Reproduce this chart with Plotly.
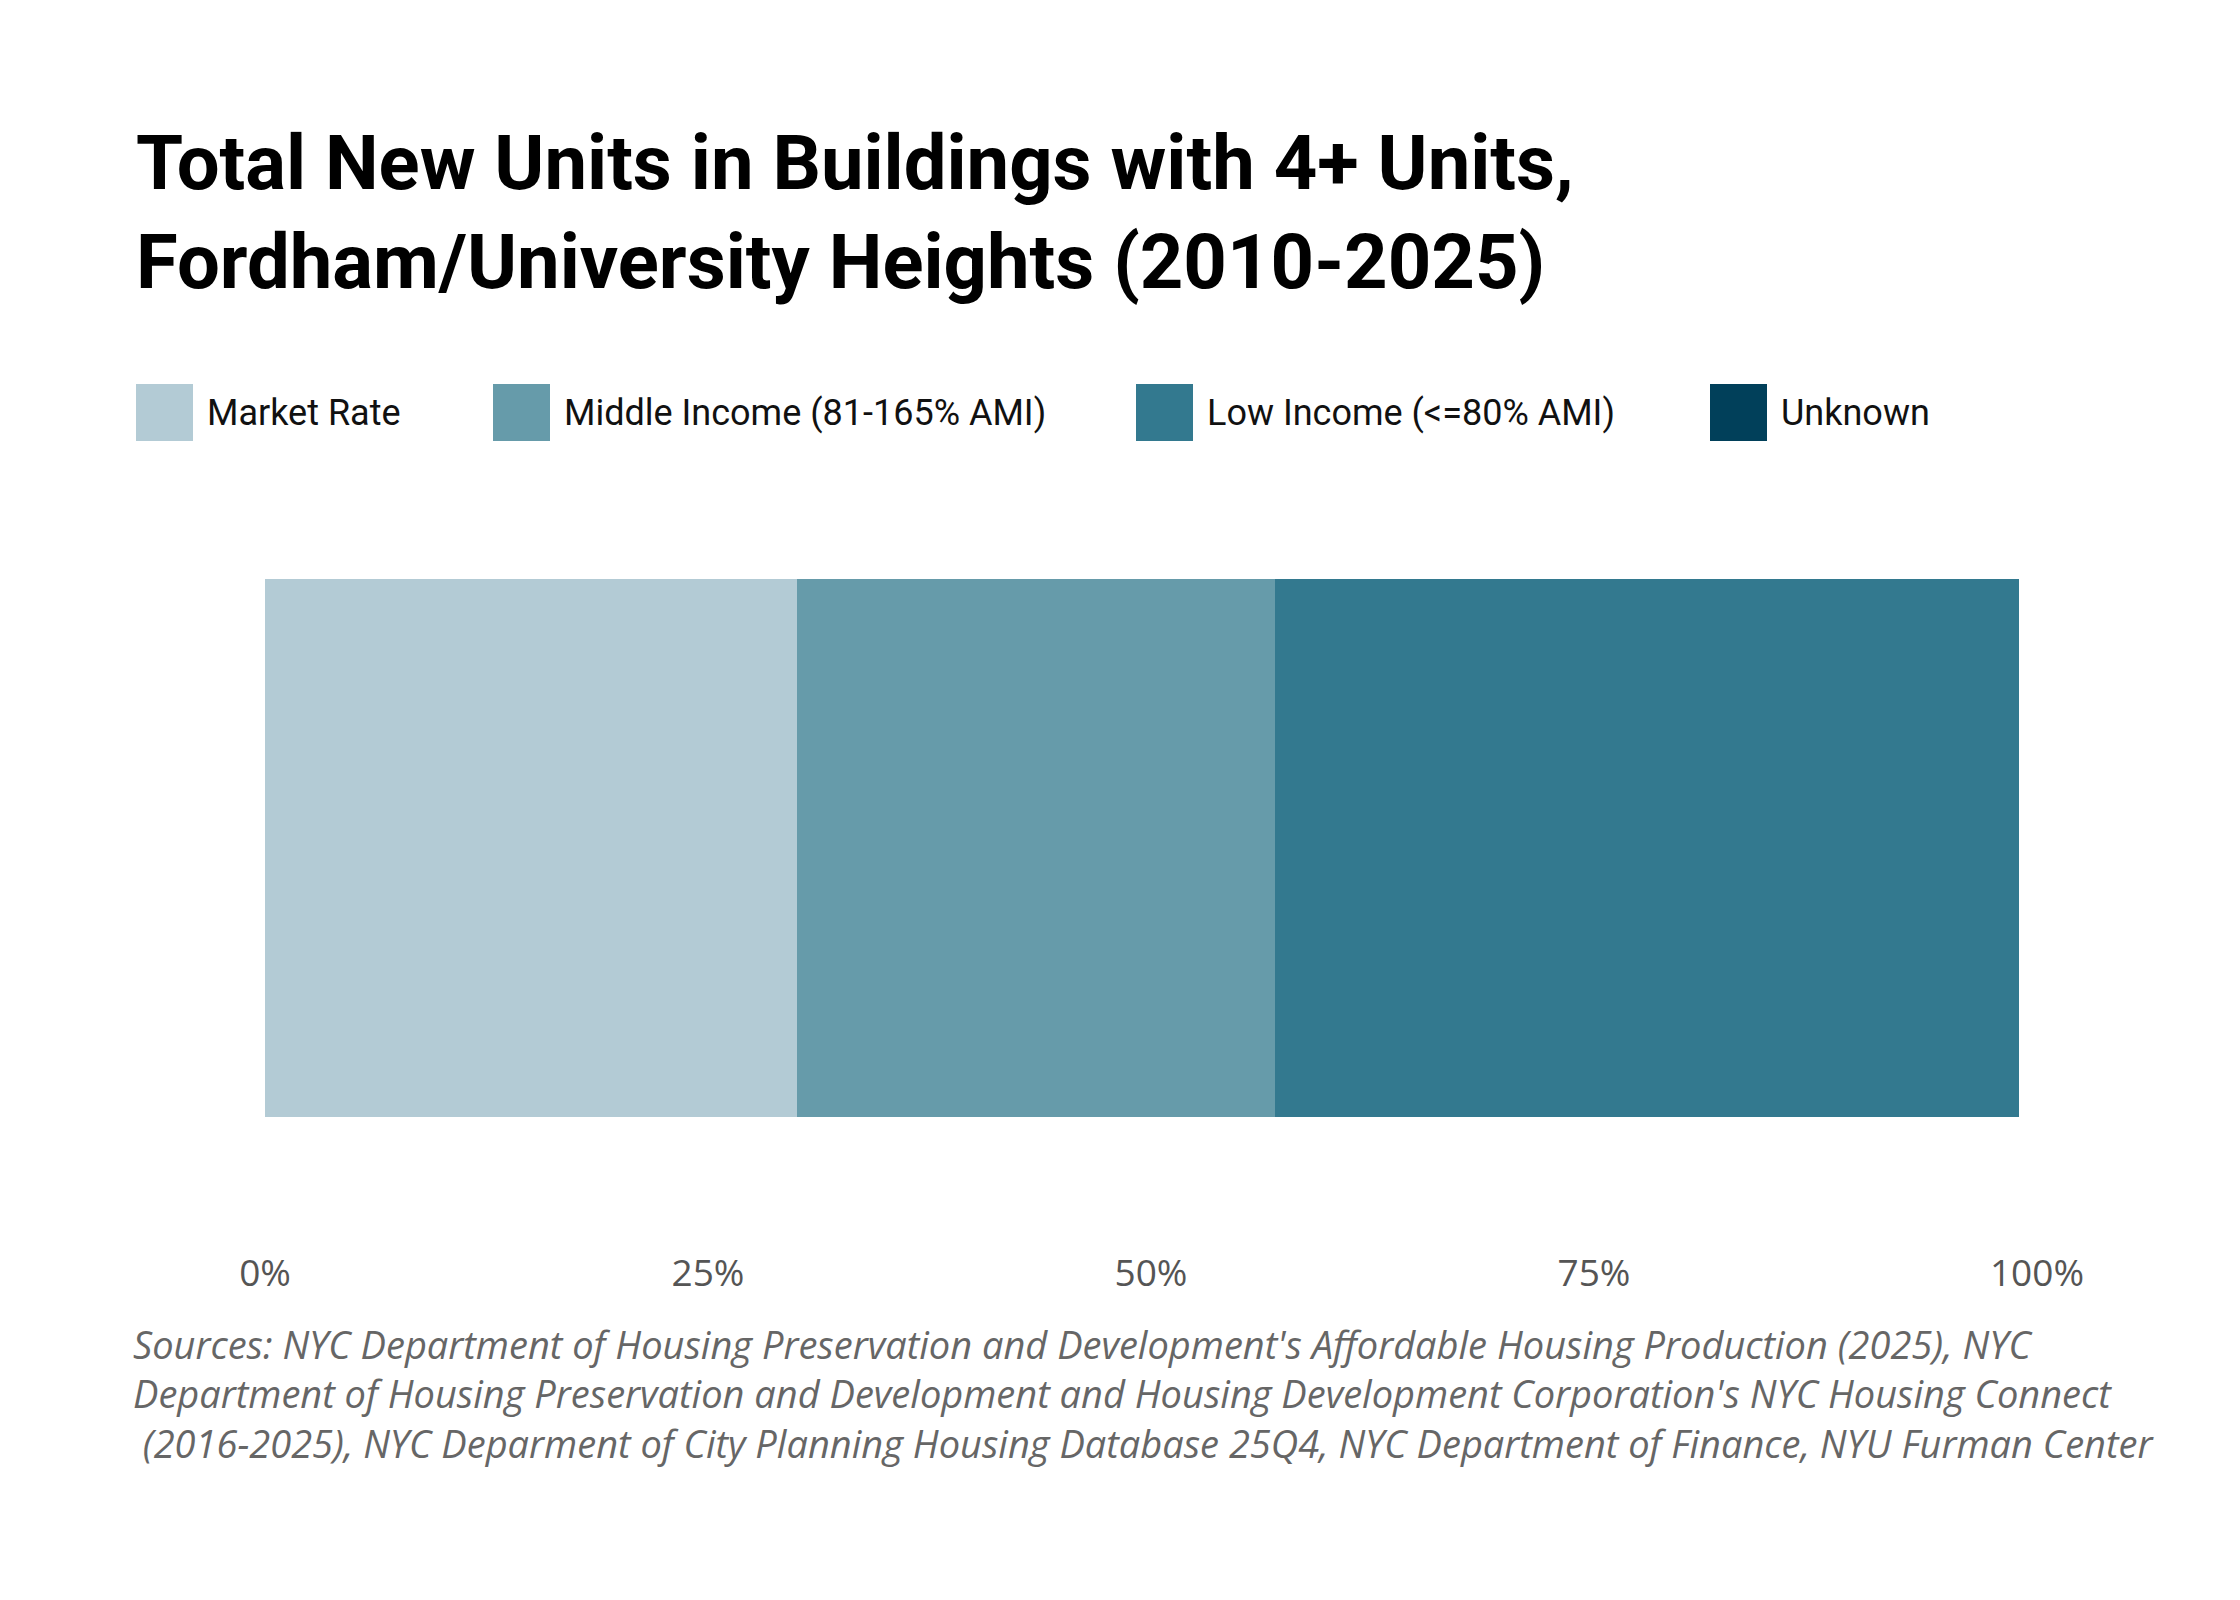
import plotly.graph_objects as go

# share of new units by affordability (percent)
categories = ['Market Rate', 'Middle Income (81-165% AMI)', 'Low Income (<=80% AMI)', 'Unknown']
shares = [30, 27, 42, 0]
colors = ['#b3cbd5', '#669baa', '#33798f', '#01405a']
tick_vals = [0, 25, 50, 75, 100]
tick_text = ['0%', '25%', '50%', '75%', '100%']

W, H = 2240, 1600
OFF = 8  # page body margin shifts the figure
ml, mr, mt, mb = 265 - OFF, 203 + OFF, 456 - OFF, 360 + OFF


def px_x(x):
    return (x - OFF - ml) / (W - ml - mr)


def px_y(y):
    return (H - mb - (y - OFF)) / (H - mt - mb)


fig = go.Figure()
for name, val, col in zip(categories, shares, colors):
    fig.add_trace(go.Bar(
        x=[val], y=['Fordham/University Heights'], name=name, orientation='h',
        marker=dict(color=col, line=dict(width=0)), showlegend=False,
        hovertemplate=name + ': %{x}%<extra></extra>'))

# legend drawn by hand so the swatches can be large squares
legend_x = [136, 493, 1136, 1710]
sq = 57
sq_top = 384
for name, col, lx in zip(categories, colors, legend_x):
    fig.add_shape(type='rect', xref='paper', yref='paper',
                  x0=px_x(lx), x1=px_x(lx + sq), y0=px_y(sq_top + sq), y1=px_y(sq_top),
                  fillcolor=col, line=dict(width=0))
    fig.add_annotation(xref='paper', yref='paper', x=px_x(lx + sq + 12), y=px_y(sq_top + sq / 2),
                       text=name, showarrow=False, xanchor='left', yanchor='middle',
                       font=dict(family='Roboto', size=36, color='#111111'))

sources = ("Sources: NYC Department of Housing Preservation and Development's Affordable Housing Production (2025), NYC<br>"
           "Department of Housing Preservation and Development and Housing Development Corporation's NYC Housing Connect<br>"
           " (2016-2025), NYC Deparment of City Planning Housing Database 25Q4, NYC Department of Finance, NYU Furman Center")
fig.add_annotation(xref='paper', yref='paper', x=px_x(131), y=px_y(1316), text=sources,
                   showarrow=False, xanchor='left', yanchor='top', align='left',
                   font=dict(family='Open Sans', size=38, color='#666666', style='italic'))

fig.update_layout(
    width=W, height=H,
    barmode='stack', bargap=0.314,
    paper_bgcolor='white', plot_bgcolor='white',
    margin=dict(l=ml, r=mr, t=mt, b=mb),
    title=dict(text='<b>Total New Units in Buildings with 4+ Units,<br>Fordham/University Heights (2010-2025)</b>',
               x=(136 - OFF) / W, xanchor='left', xref='container',
               y=1 - 181 / H, yanchor='top', yref='container',
               font=dict(family='Roboto', size=76, color='#000000')),
    xaxis=dict(range=[0, 100], tickvals=tick_vals, ticktext=tick_text, showgrid=False,
               zeroline=False, showline=False, ticks='', ticklabelstandoff=8,
               tickfont=dict(family='Open Sans', size=37, color='#555555'), fixedrange=True),
    yaxis=dict(showticklabels=False, showgrid=False, zeroline=False, showline=False,
               ticks='', fixedrange=True),
)

fig.write_html('out.html')
